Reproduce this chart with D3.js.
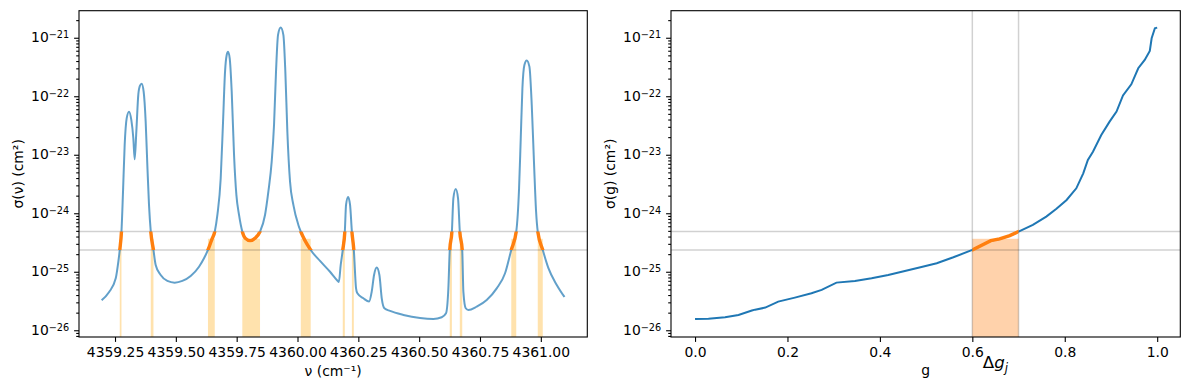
<!DOCTYPE html>
<html><head><meta charset="utf-8">
<script src="https://cdn.jsdelivr.net/npm/d3@7"></script>
<style>
body{margin:0;background:#fff}
svg text{font-family:"DejaVu Sans",sans-serif;fill:#000}
</style>
</head><body>
<svg id="c" width="1189" height="390"></svg>
<script>
// ---------------- data ----------------
const nu = [4359.195,4359.225,4359.253,4359.2637,4359.2695,4359.2765,4359.2829,4359.2897,4359.2979,4359.3075,
  4359.317,4359.3253,4359.3308,4359.3376,4359.3458,4359.3527,4359.3595,4359.3677,4359.376,4359.3828,
  4359.3897,4359.397,4359.408,4359.4171,4359.4377,4359.4651,4359.4952,4359.5267,4359.561,4359.5953,
  4359.6158,4359.632,4359.6473,4359.660,4359.6707,4359.6844,4359.694,4359.7022,4359.709,4359.7145,
  4359.7214,4359.7296,4359.7392,4359.7488,4359.7597,4359.7732,4359.785,4359.805,4359.825,4359.846,
  4359.8665,4359.8802,4359.8939,4359.9035,4359.9117,4359.92,4359.9309,4359.9419,4359.95,4359.9583,
  4359.9693,4359.983,4360.0035,4360.0135,4360.0542,4360.0926,4360.1337,4360.1652,4360.170,4360.1776,
  4360.186,4360.1945,4360.1995,4360.208,4360.216,4360.2235,4360.2315,4360.2406,4360.2461,4360.2708,
  4360.2941,4360.305,4360.3146,4360.3256,4360.3366,4360.3462,4360.3571,4360.3804,4360.4352,4360.5036,
  4360.5584,4360.5926,4360.6104,4360.620,4360.6257,4360.6345,4360.6406,4360.6502,4360.6598,4360.667,
  4360.677,4360.6817,4360.6913,4360.7023,4360.7365,4360.7776,4360.8187,4360.853,4360.8785,4360.899,
  4360.9106,4360.9175,4360.9243,4360.9325,4360.9421,4360.9531,4360.9627,4360.9723,4360.9805,4360.9874,
  4361.008,4361.0312,4361.0655,4361.097];
const sigmaNu = [3.25e-26,4.46e-26,7.73e-26,1.49e-25,2.36e-25,4.86e-25,2.34e-24,1.47e-23,4.19e-23,5.46e-23,
  3.94e-23,1.91e-23,8.37e-24,2.48e-23,1.08e-22,1.52e-22,1.64e-22,1.20e-22,3.68e-23,6.70e-24,
  1.39e-24,4.86e-25,2.36e-25,1.31e-25,8.81e-26,6.97e-26,6.52e-26,6.97e-26,8.47e-26,1.22e-25,
  1.70e-25,2.36e-25,3.50e-25,4.86e-25,9.35e-25,3.96e-24,3.68e-23,2.64e-22,5.08e-22,5.79e-22,
  4.46e-22,1.20e-22,9.93e-24,2.06e-24,9.35e-25,4.86e-25,3.75e-25,3.40e-25,3.73e-25,4.86e-25,
  9.35e-25,2.34e-24,7.63e-24,3.23e-23,2.64e-22,1.12e-21,1.49e-21,1.12e-21,2.64e-22,2.48e-23,
  3.47e-24,1.39e-24,6.31e-25,4.86e-25,2.36e-25,1.53e-25,1.00e-25,6.97e-26,6.70e-26,1.31e-25,
  2.36e-25,4.86e-25,1.39e-24,1.90e-24,1.39e-24,4.86e-25,2.36e-25,5.21e-26,4.28e-26,3.52e-26,
  3.09e-26,4.57e-26,8.81e-26,1.18e-25,8.81e-26,3.52e-26,2.38e-26,2.14e-26,1.83e-26,1.62e-26,
  1.56e-26,1.67e-26,1.95e-26,5.21e-26,2.36e-25,4.86e-25,1.80e-24,2.60e-24,1.80e-24,4.86e-25,
  2.36e-25,4.57e-26,2.38e-26,2.22e-26,2.54e-26,3.30e-26,5.21e-26,9.42e-26,2.36e-25,4.86e-25,
  2.67e-24,1.91e-23,1.37e-22,3.43e-22,4.10e-22,3.21e-22,7.10e-23,6.70e-24,1.07e-24,4.86e-25,
  2.36e-25,1.15e-25,5.94e-26,3.71e-26];

const gValues = [0.000,0.029,0.065,0.094,0.123,0.130,0.152,0.180,0.216,0.252,0.274,0.306,0.346,0.382,0.418,
  0.454,0.490,0.523,0.559,0.600,0.640,0.659,0.681,0.700,0.731,0.760,0.782,0.804,0.825,0.840,0.850,0.861,
  0.879,0.897,0.912,0.926,0.944,0.959,0.973,0.984,0.988,0.995,1.000];
const sigmaG = [1.56e-26,1.58e-26,1.67e-26,1.83e-26,2.17e-26,2.25e-26,2.44e-26,3.09e-26,3.61e-26,4.28e-26,
  4.89e-26,6.52e-26,6.96e-26,7.73e-26,8.81e-26,1.03e-25,1.21e-25,1.40e-25,1.77e-25,2.36e-25,3.40e-25,
  3.64e-25,4.15e-25,4.86e-25,6.31e-25,8.75e-25,1.19e-24,1.69e-24,2.67e-24,4.82e-24,8.14e-24,1.13e-23,
  2.18e-23,3.68e-23,5.46e-23,1.03e-22,1.60e-22,3.01e-22,4.18e-22,5.95e-22,9.79e-22,1.45e-21,1.49e-21];

const sigmaBounds = [2.36e-25, 4.86e-25];   // σ(g=0.6), σ(g=0.7)
const gBin = [0.6, 0.7];
const binMean = [3.66e-25];
const nuTicks = [4359.25,4359.50,4359.75,4360.00,4360.25,4360.50,4360.75,4361.00];
const gTicks = [0.0,0.2,0.4,0.6,0.8,1.0];
const yTickExponents = [-26,-25,-24,-23,-22,-21];
const yLimits = [7.67e-27, 2.90e-21];
const nuLimits = [4359.102, 4361.191];
const gLimits = [-0.052, 1.05];

// ---------------- layout ----------------
const svg = d3.select("#c");
const plotTop = 10.7, plotBottom = 337;
const panels = [{l:79, r:587.3}, {l:671, r:1180.3}];
const FS = 13.9;
const C0 = "#1f77b4", C1 = "#ff7f0e";

const y = d3.scaleLog().domain(yLimits).range([plotBottom, plotTop]);

function bandsFrom(xs, ys, lo, hi){
  const L = Math.log10, a = L(lo), b = L(hi);
  const res = []; let cur = null;
  const inside = v => v >= a - 1e-12 && v <= b + 1e-12;
  const cross = (i, t) => { const y0 = L(ys[i-1]), y1 = L(ys[i]); const f = (t - y0)/(y1 - y0); return xs[i-1] + f*(xs[i]-xs[i-1]); };
  for (let i = 0; i < xs.length; i++){
    const v = L(ys[i]);
    if (inside(v)){
      if (!cur){
        if (i > 0){ const y0 = L(ys[i-1]); cur = [cross(i, y0 < a ? a : b), xs[i]]; }
        else cur = [xs[i], xs[i]];
      } else cur[1] = xs[i];
    } else {
      if (cur){ cur[1] = cross(i, v < a ? a : b); res.push(cur); cur = null; }
      else if (i > 0){
        const y0 = L(ys[i-1]);
        if ((y0 < a && v > b) || (y0 > b && v < a)){
          const xa = cross(i, a), xb = cross(i, b);
          res.push([Math.min(xa,xb), Math.max(xa,xb)]);
        }
      }
    }
  }
  if (cur) res.push(cur);
  return res;
}

function drawYAxis(g, x0){
  const minor = [];
  for (let e = -27; e <= -21; e++) for (let k = 2; k <= 9; k++){
    const v = k*Math.pow(10, e); if (v >= yLimits[0] && v <= yLimits[1]) minor.push(v);
  }
  const major = yTickExponents.map(e => Math.pow(10, e));
  const ax = g.append("g").attr("transform", `translate(${x0},0)`);
  ax.call(d3.axisLeft(y).tickValues(major).tickSize(4.9).tickFormat(""));
  const axm = g.append("g").attr("transform", `translate(${x0},0)`);
  axm.call(d3.axisLeft(y).tickValues(minor).tickSize(2.8).tickFormat(""));
  [ax, axm].forEach(a => { a.select(".domain").remove(); a.selectAll("line").attr("stroke","#000").attr("stroke-width",1.1); });
  yTickExponents.forEach(e => {
    const t = g.append("text").attr("x", x0 - 9.8).attr("y", y(Math.pow(10,e)) + 4.7)
      .attr("text-anchor","end").attr("font-size", FS);
    t.append("tspan").text("10");
    t.append("tspan").attr("font-size", 9.7).attr("dy", -4.4).text("\u2212" + Math.abs(e));
  });
}

function drawXAxis(g, x, ticks, fmt){
  const ax = g.append("g").attr("transform", `translate(0,${plotBottom})`)
    .call(d3.axisBottom(x).tickValues(ticks).tickSize(4.9).tickPadding(4.9).tickFormat(fmt));
  ax.select(".domain").remove();
  ax.selectAll("line").attr("stroke","#000").attr("stroke-width",1.1);
  ax.selectAll("text").attr("font-size", FS).attr("font-family","DejaVu Sans").attr("fill","#000");
}

function frame(g, p){
  g.append("rect").attr("x", p.l).attr("y", plotTop).attr("width", p.r - p.l).attr("height", plotBottom - plotTop)
    .attr("fill","none").attr("stroke","#000").attr("stroke-width",1.1);
}

const defs = svg.append("defs");

// ---------------- left panel ----------------
{
  const p = panels[0];
  const x = d3.scaleLinear().domain(nuLimits).range([p.l, p.r]);
  const g = svg.append("g");
  const pts = nu.map((v,i) => [v, sigmaNu[i]]);
  const line = d3.line().x(d => x(d[0])).y(d => y(d[1])).curve(d3.curveMonotoneX);

  const bands = bandsFrom(nu, sigmaNu, sigmaBounds[0], sigmaBounds[1]);
  g.selectAll("rect.band").data(bands).join("rect").attr("class","band")
    .attr("x", d => x(d[0])).attr("width", d => Math.max(1, x(d[1]) - x(d[0])))
    .attr("y", y(binMean[0])).attr("height", plotBottom - y(binMean[0]))
    .attr("fill", "#ffa500").attr("fill-opacity", 0.32);

  sigmaBounds.forEach(s => g.append("line").attr("x1", p.l).attr("x2", p.r).attr("y1", y(s)).attr("y2", y(s))
    .attr("stroke","#000").attr("stroke-opacity",0.18).attr("stroke-width",1.5));

  g.append("path").attr("d", line(pts)).attr("fill","none").attr("stroke", C0)
    .attr("stroke-opacity",0.7).attr("stroke-width",2);

  defs.append("clipPath").attr("id","clipL").append("rect")
    .attr("x", p.l).attr("width", p.r - p.l)
    .attr("y", y(sigmaBounds[1])).attr("height", y(sigmaBounds[0]) - y(sigmaBounds[1]));
  g.append("path").attr("d", line(pts)).attr("fill","none").attr("stroke", C1)
    .attr("stroke-width",3.4).attr("clip-path","url(#clipL)");

  frame(g, p);
  drawXAxis(g, x, nuTicks, d3.format(".2f"));
  drawYAxis(g, p.l);
  g.append("text").attr("x", (p.l + p.r)/2).attr("y", 375.6).attr("text-anchor","middle")
    .attr("font-size", FS).text("\u03bd (cm\u207b\u00b9)");
  g.append("text").attr("transform", `translate(23,${(plotTop+plotBottom)/2}) rotate(-90)`)
    .attr("text-anchor","middle").attr("font-size", FS).text("\u03c3(\u03bd) (cm\u00b2)");
}

// ---------------- right panel ----------------
{
  const p = panels[1];
  const x = d3.scaleLinear().domain(gLimits).range([p.l, p.r]);
  const g = svg.append("g");
  const pts = gValues.map((v,i) => [v, sigmaG[i]]);
  const line = d3.line().x(d => x(d[0])).y(d => y(d[1]));

  g.append("rect").attr("x", x(gBin[0])).attr("width", x(gBin[1]) - x(gBin[0]))
    .attr("y", y(binMean[0])).attr("height", plotBottom - y(binMean[0]))
    .attr("fill", C1).attr("fill-opacity", 0.35);

  sigmaBounds.forEach(s => g.append("line").attr("x1", p.l).attr("x2", p.r).attr("y1", y(s)).attr("y2", y(s))
    .attr("stroke","#000").attr("stroke-opacity",0.18).attr("stroke-width",1.5));
  gBin.forEach(v => g.append("line").attr("x1", x(v)).attr("x2", x(v)).attr("y1", plotTop).attr("y2", plotBottom)
    .attr("stroke","#000").attr("stroke-opacity",0.18).attr("stroke-width",1.5));

  g.append("path").attr("d", line(pts)).attr("fill","none").attr("stroke", C0).attr("stroke-width",2);

  defs.append("clipPath").attr("id","clipR").append("rect")
    .attr("x", x(gBin[0])).attr("width", x(gBin[1]) - x(gBin[0])).attr("y", plotTop).attr("height", plotBottom - plotTop);
  g.append("path").attr("d", line(pts)).attr("fill","none").attr("stroke", C1)
    .attr("stroke-width",3.4).attr("clip-path","url(#clipR)");

  frame(g, p);
  drawXAxis(g, x, gTicks, d3.format(".1f"));
  drawYAxis(g, p.l);
  g.append("text").attr("x", (p.l + p.r)/2).attr("y", 375).attr("text-anchor","middle")
    .attr("font-size", FS).text("g");
  g.append("text").attr("transform", `translate(615,${(plotTop+plotBottom)/2}) rotate(-90)`)
    .attr("text-anchor","middle").attr("font-size", FS).text("\u03c3(g) (cm\u00b2)");

  const dg = g.append("text").attr("x", x((gBin[0]+gBin[1])/2)).attr("y", 368.3)
    .attr("text-anchor","middle").attr("font-size", 16.7);
  dg.append("tspan").text("\u0394");
  dg.append("tspan").attr("font-style","italic").text("g");
  dg.append("tspan").attr("font-style","italic").attr("font-size", 11.7).attr("dy", 3.5).text("j");
}
</script>
</body></html>
